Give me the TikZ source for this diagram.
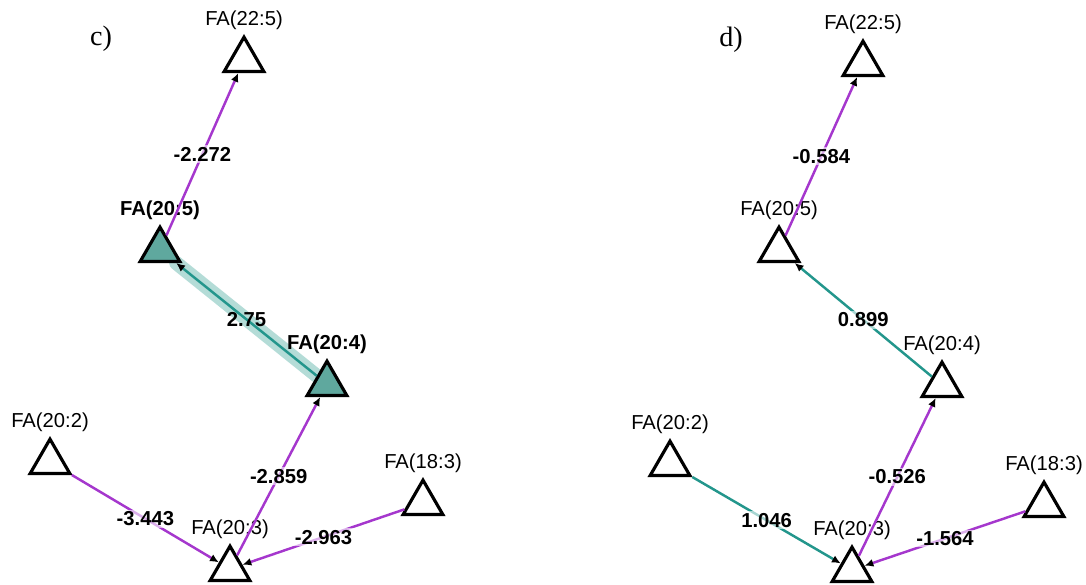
\documentclass[tikz,border=0pt]{standalone}
\usepackage{fontspec}
\setmainfont{Liberation Sans}
\newfontfamily\panelfont{Liberation Serif}
\usetikzlibrary{shapes.geometric,arrows.meta,backgrounds}
\definecolor{fapurple}{RGB}{165,55,205}
\definecolor{fateal}{RGB}{35,150,140}
\definecolor{fafill}{RGB}{95,168,158}
\definecolor{fahalo}{RGB}{180,220,215}
\newcommand{\labfont}{\fontsize{11.5}{13}\selectfont}

\begin{document}
\begin{tikzpicture}[x=0.02cm,y=-0.02cm,
	fa/.style={regular polygon,regular polygon sides=3,draw=black,line width=1.8pt,minimum size=26pt,inner sep=0pt},
	hit/.style={fa,fill=fafill},
	lab/.style={font=\labfont,inner sep=1pt,label distance=1.5pt},
	boldlab/.style={lab,font=\labfont\bfseries},
	pe/.style={draw=fapurple,line width=1.4pt,-{Latex[black,length=5pt,width=4.5pt]}},
	te/.style={pe,draw=fateal},
	wt/.style={font=\labfont\bfseries,fill=white,fill opacity=0.6,text opacity=1,inner sep=1pt}]
	\useasboundingbox (0,0) rectangle (1086,585);

	% panel c
	\node[font=\panelfont\fontsize{16}{18}\selectfont] (pc) at (101,39) {c)};
	\node[fa,label={[lab]above:FA(22:5)}] (c225) at (244,60) {};
	\node[hit,label={[boldlab]above:FA(20:5)}] (c205) at (160,250) {};
	\node[hit,label={[boldlab]above:FA(20:4)}] (c204) at (327,384) {};
	\node[fa,label={[lab]above:FA(20:2)}] (c202) at (50,462) {};
	\node[fa,label={[lab]above:FA(18:3)}] (c183) at (423,503) {};
	\node[fa,label={[lab]above:FA(20:3)}] (c203) at (230,569) {};
	\begin{scope}[on background layer]
		\draw[fahalo,line width=8pt,line cap=round] (c204) -- (c205);
	\end{scope}
	\draw[pe] (c205) -- node[wt] {-2.272} (c225);
	\draw[te] (c204) -- node[wt,fill opacity=0] {2.75} (c205);
	\draw[pe] (c203) -- node[wt] {-2.859} (c204);
	\draw[pe] (c202) -- node[wt] {-3.443} (c203);
	\draw[pe] (c183) -- node[wt] {-2.963} (c203);

	% panel d
	\node[font=\panelfont\fontsize{16}{18}\selectfont] (pd) at (731,40) {d)};
	\node[fa,label={[lab]above:FA(22:5)}] (d225) at (863,64) {};
	\node[fa,label={[lab]above:FA(20:5)}] (d205) at (779,250) {};
	\node[fa,label={[lab]above:FA(20:4)}] (d204) at (942,385) {};
	\node[fa,label={[lab]above:FA(20:2)}] (d202) at (670,464) {};
	\node[fa,label={[lab]above:FA(18:3)}] (d183) at (1044,505) {};
	\node[fa,label={[lab]above:FA(20:3)}] (d203) at (852,570) {};
	\draw[pe] (d205) -- node[wt] {-0.584} (d225);
	\draw[te] (d204) -- node[wt] {0.899} (d205);
	\draw[pe] (d203) -- node[wt] {-0.526} (d204);
	\draw[te] (d202) -- node[wt] {1.046} (d203);
	\draw[pe] (d183) -- node[wt] {-1.564} (d203);
\end{tikzpicture}
\end{document}
